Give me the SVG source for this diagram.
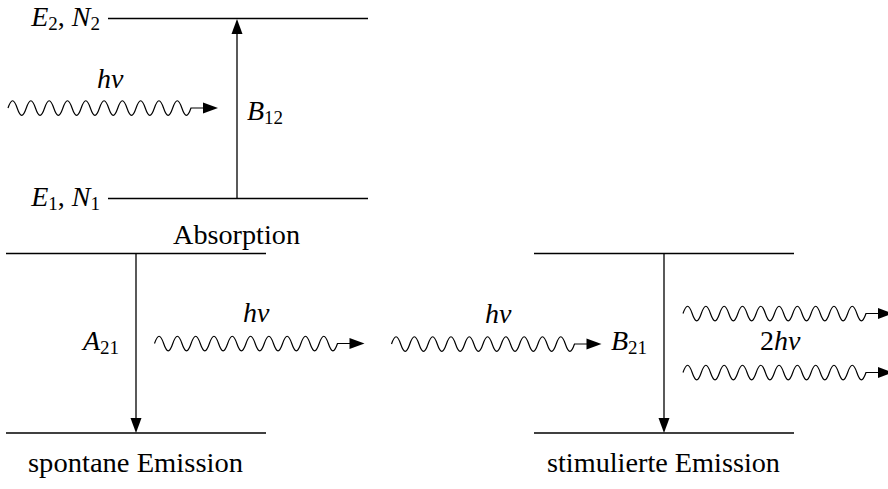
<svg xmlns="http://www.w3.org/2000/svg" width="888" height="489" viewBox="0 0 888 489">
<style>
.lvl{stroke:#000;stroke-width:1.3;fill:none}
.arr{stroke:#000;stroke-width:1.3;fill:none}
</style>
<defs>
<marker id="ah" viewBox="-13 -6 17 12" markerWidth="17" markerHeight="12" refX="0" refY="0" orient="auto" markerUnits="userSpaceOnUse">
<path d="M3,0 L-12,-5.5 L-12,5.5 Z" fill="#000"/>
</marker>
<path id="wv" fill="none" stroke="#000" stroke-width="1.2" marker-end="url(#ah)" d="M0,0 c3.33,-9.7 5.82,-9.7 9.15,0 s5.82,9.7 9.15,0 s5.82,-9.7 9.15,0 s5.82,9.7 9.15,0 s5.82,-9.7 9.15,0 s5.82,9.7 9.15,0 s5.82,-9.7 9.15,0 s5.82,9.7 9.15,0 s5.82,-9.7 9.15,0 s5.82,9.7 9.15,0 s5.82,-9.7 9.15,0 s5.82,9.7 9.15,0 s5.82,-9.7 9.15,0 s5.82,9.7 9.15,0 s5.82,-9.7 9.15,0 s5.82,9.7 9.15,0 s5.82,-9.7 9.15,0 s5.82,9.7 9.15,0 s5.82,-9.7 9.15,0 s5.82,9.7 9.15,0 L207,0"/>
</defs>

<g id="absorption">
<line class="lvl" x1="108" y1="18.5" x2="368" y2="18.5"/>
<line class="lvl" x1="108" y1="198.5" x2="368" y2="198.5"/>
<text x="100" y="26" font-family="Liberation Serif, serif" font-size="28" text-anchor="end"><tspan font-style="italic">E</tspan><tspan font-size="19" dy="4">2</tspan><tspan dy="-4">, </tspan><tspan font-style="italic">N</tspan><tspan font-size="19" dy="4">2</tspan></text>
<text x="100" y="206" font-family="Liberation Serif, serif" font-size="28" text-anchor="end"><tspan font-style="italic">E</tspan><tspan font-size="19" dy="4">1</tspan><tspan dy="-4">, </tspan><tspan font-style="italic">N</tspan><tspan font-size="19" dy="4">1</tspan></text>
<text x="97" y="88" font-family="Liberation Serif, serif" font-size="28" font-style="italic">hν</text>
<text x="247" y="120" font-family="Liberation Serif, serif" font-size="28"><tspan font-style="italic">B</tspan><tspan font-size="19" dy="4">12</tspan></text>
<text x="236.5" y="244" font-family="Liberation Serif, serif" font-size="27" text-anchor="middle" textLength="127" lengthAdjust="spacingAndGlyphs">Absorption</text>
</g>

<g id="spontane">
<line class="lvl" x1="6" y1="253.5" x2="266" y2="253.5"/>
<line class="lvl" x1="6" y1="433" x2="266" y2="433"/>
<text x="83" y="350" font-family="Liberation Serif, serif" font-size="28"><tspan font-style="italic">A</tspan><tspan font-size="19" dy="4">21</tspan></text>
<text x="243" y="322" font-family="Liberation Serif, serif" font-size="28" font-style="italic">hν</text>
<text x="135.5" y="472" font-family="Liberation Serif, serif" font-size="27" text-anchor="middle" textLength="215" lengthAdjust="spacingAndGlyphs">spontane Emission</text>
</g>

<g id="stimulierte">
<line class="lvl" x1="534" y1="253.5" x2="794" y2="253.5"/>
<line class="lvl" x1="534" y1="433" x2="794" y2="433"/>
<text x="485" y="323" font-family="Liberation Serif, serif" font-size="28" font-style="italic">hν</text>
<text x="611" y="350" font-family="Liberation Serif, serif" font-size="28"><tspan font-style="italic">B</tspan><tspan font-size="19" dy="4">21</tspan></text>
<text x="760" y="350" font-family="Liberation Serif, serif" font-size="28">2<tspan font-style="italic">hν</tspan></text>
<text x="663.5" y="472" font-family="Liberation Serif, serif" font-size="27" text-anchor="middle" textLength="233" lengthAdjust="spacingAndGlyphs">stimulierte Emission</text>
</g>

<g id="connectors">
<line class="arr" x1="237" y1="198.5" x2="237" y2="22" marker-end="url(#ah)"/>
<line class="arr" x1="136" y1="253.5" x2="136" y2="430" marker-end="url(#ah)"/>
<line class="arr" x1="664" y1="253.5" x2="664" y2="430" marker-end="url(#ah)"/>
<use href="#wv" x="8" y="108"/>
<use href="#wv" x="154.5" y="343.5"/>
<use href="#wv" x="391.5" y="344"/>
<use href="#wv" x="683" y="313.5"/>
<use href="#wv" x="683" y="372.5"/>
</g>
</svg>
